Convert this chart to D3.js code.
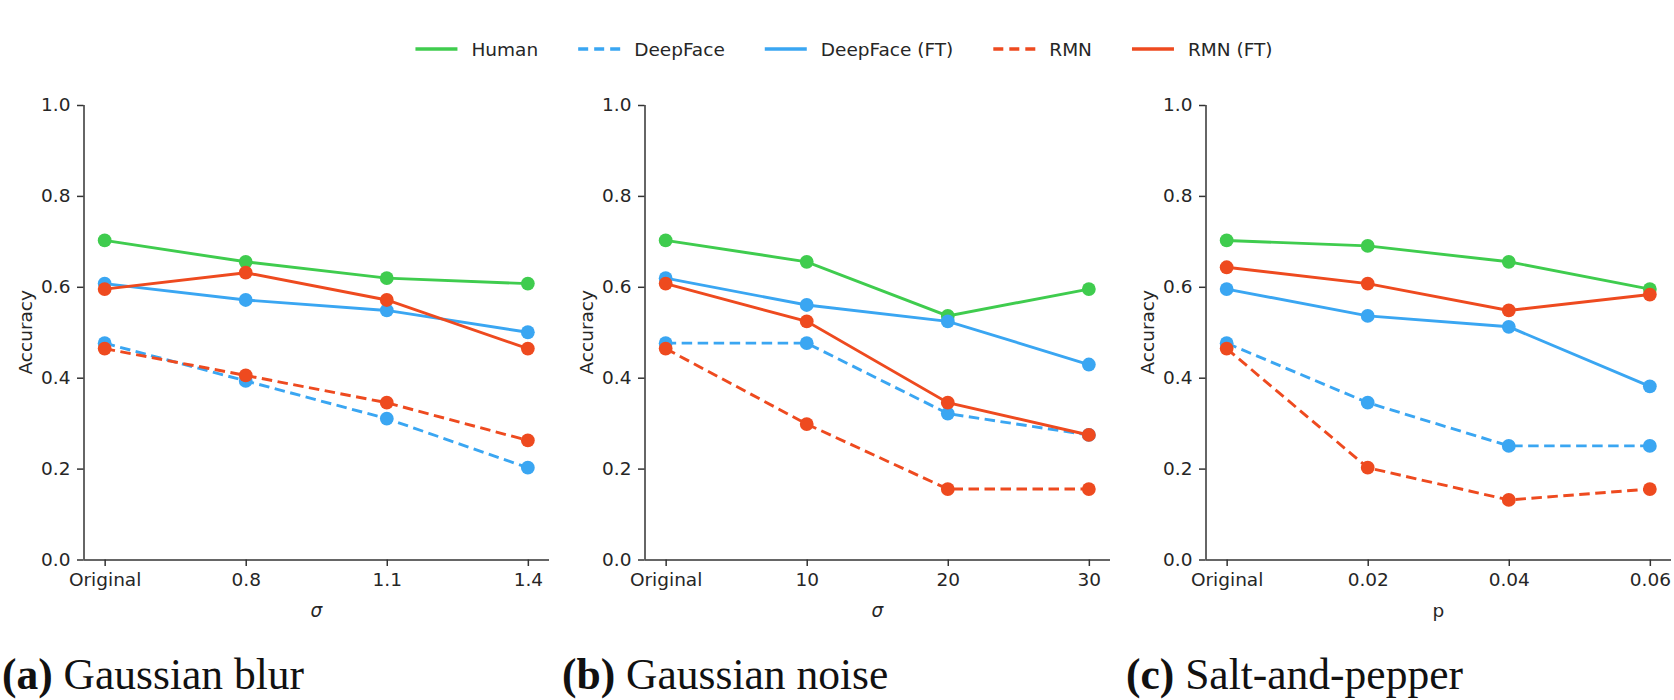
<!DOCTYPE html>
<html><head><meta charset="utf-8">
<script src="https://cdn.jsdelivr.net/npm/d3@7"></script>
<style>body{margin:0;background:#fff} svg{display:block}</style>
</head><body><svg id="c" width="1674" height="700"></svg>
<script>
// ---- data ----
const seriesNames = ["Human", "DeepFace", "DeepFace (FT)", "RMN", "RMN (FT)"];
const blurLevels  = ["Original", "0.8", "1.1", "1.4"];
const noiseLevels = ["Original", "10", "20", "30"];
const saltLevels  = ["Original", "0.02", "0.04", "0.06"];
const yTickValues = [0, 0.2, 0.4, 0.6, 0.8, 1.0];
const xLabels = ["σ", "σ", "p"];
const captionTags  = ["(a)", "(b)", "(c)"];
const captionTexts = ["Gaussian blur", "Gaussian noise", "Salt-and-pepper"];

// Gaussian blur
const blurHuman      = [0.702, 0.655, 0.619, 0.607];
const blurDeepFace   = [0.476, 0.393, 0.310, 0.202];
const blurDeepFaceFT = [0.607, 0.571, 0.548, 0.500];
const blurRMN        = [0.464, 0.405, 0.345, 0.262];
const blurRMNFT      = [0.595, 0.631, 0.571, 0.464];
// Gaussian noise
const noiseHuman      = [0.702, 0.655, 0.536, 0.595];
const noiseDeepFace   = [0.476, 0.476, 0.321, 0.274];
const noiseDeepFaceFT = [0.619, 0.560, 0.524, 0.429];
const noiseRMN        = [0.464, 0.298, 0.155, 0.155];
const noiseRMNFT      = [0.607, 0.524, 0.345, 0.274];
// Salt-and-pepper
const saltHuman      = [0.702, 0.690, 0.655, 0.595];
const saltDeepFace   = [0.476, 0.345, 0.250, 0.250];
const saltDeepFaceFT = [0.595, 0.536, 0.512, 0.381];
const saltRMN        = [0.464, 0.202, 0.131, 0.155];
const saltRMNFT      = [0.643, 0.607, 0.548, 0.583];

// ---- styles ----
const colors = {"Human": "#3fcc4e", "DeepFace": "#3aa6f2", "DeepFace (FT)": "#3aa6f2", "RMN": "#ee4a1f", "RMN (FT)": "#ee4a1f"};
const dashed = {"Human": false, "DeepFace": true, "DeepFace (FT)": false, "RMN": true, "RMN (FT)": false};
const DASH = "10.5,5.5";
const FONT = "DejaVu Sans, sans-serif";
const TXT = "#262626";

const panels = [
  {levels: blurLevels,  data: [blurHuman, blurDeepFace, blurDeepFaceFT, blurRMN, blurRMNFT], left: 83.5},
  {levels: noiseLevels, data: [noiseHuman, noiseDeepFace, noiseDeepFaceFT, noiseRMN, noiseRMNFT], left: 644.5},
  {levels: saltLevels,  data: [saltHuman, saltDeepFace, saltDeepFaceFT, saltRMN, saltRMNFT], left: 1205.5}
];
const W = 465.5, TOP = 105, BOTTOM = 559.5;
const svg = d3.select("#c");

const y = d3.scaleLinear().domain([0, 1]).range([BOTTOM, TOP]);

panels.forEach((p, pi) => {
  const x = d3.scalePoint().domain(p.levels).range([p.left, p.left + W]).padding(0.15);
  const g = svg.append("g");

  // axes
  const ya = g.append("g").attr("transform", `translate(${p.left},0)`)
    .call(d3.axisLeft(y).tickValues(yTickValues).tickFormat(d3.format(".1f")).tickSize(6.5).tickSizeOuter(0).tickPadding(6.5));
  const xa = g.append("g").attr("transform", `translate(0,${BOTTOM})`)
    .call(d3.axisBottom(x).tickSize(6.5).tickSizeOuter(0).tickPadding(6.5));
  [ya, xa].forEach(a => {
    a.select(".domain").attr("stroke", "#333").attr("stroke-width", 1.5);
    a.selectAll(".tick line").attr("stroke", "#333").attr("stroke-width", 1.5);
    a.selectAll(".tick text").attr("fill", TXT).style("font-family", FONT).style("font-size", "18.5px");
  });
  xa.select(".domain").attr("d", `M${p.left},0.5H${p.left + W}`);
  ya.select(".domain").attr("d", `M0.5,${BOTTOM}V${TOP}`);

  // axis labels
  g.append("text").attr("transform", `translate(${p.left - 58},${(TOP + BOTTOM) / 2}) rotate(-90)`)
    .attr("text-anchor", "middle").attr("dominant-baseline", "central")
    .attr("fill", TXT).style("font-family", FONT).style("font-size", "18.5px").text("Accuracy");
  g.append("text").attr("x", p.left + W / 2).attr("y", 617)
    .attr("text-anchor", "middle").attr("fill", TXT).style("font-family", FONT).style("font-size", "18.5px")
    .style("font-style", xLabels[pi] === "σ" ? "italic" : "normal").text(xLabels[pi]);

  // series
  const line = d3.line().x((d, i) => x(p.levels[i])).y(d => y(d));
  seriesNames.forEach((name, si) => {
    const vals = p.data[si];
    g.append("path").datum(vals).attr("d", line).attr("fill", "none")
      .attr("stroke", colors[name]).attr("stroke-width", 2.9)
      .attr("stroke-dasharray", dashed[name] ? DASH : null);
    g.selectAll(null).data(vals).enter().append("circle")
      .attr("cx", (d, i) => x(p.levels[i])).attr("cy", d => y(d)).attr("r", 6.9)
      .attr("fill", colors[name]);
  });

  // caption
  const cap = svg.append("text").attr("x", [2, 562, 1126][pi]).attr("y", 689)
    .attr("fill", "#111").style("font-family", "Liberation Serif, serif").style("font-size", "43.5px");
  cap.append("tspan").attr("font-weight", "bold").text(captionTags[pi]);
  cap.append("tspan").text(" " + captionTexts[pi]);
});

// legend
const leg = svg.append("g");
const LY = 49, HL = 42, HG = 14, CS = 40;
let items = [];
let tmp = leg.append("g");
seriesNames.forEach(n => {
  const t = tmp.append("text").style("font-family", FONT).style("font-size", "18.5px").text(n);
  items.push({name: n, w: t.node().getComputedTextLength()});
});
tmp.remove();
const total = d3.sum(items, d => HL + HG + d.w) + CS * (items.length - 1);
let cx = 844 - total / 2;
items.forEach(it => {
  leg.append("line").attr("x1", cx).attr("x2", cx + HL).attr("y1", LY).attr("y2", LY)
    .attr("stroke", colors[it.name]).attr("stroke-width", 3.5)
    .attr("stroke-dasharray", dashed[it.name] ? "10,6" : null);
  leg.append("text").attr("x", cx + HL + HG).attr("y", LY).attr("dominant-baseline", "central")
    .attr("fill", TXT).style("font-family", FONT).style("font-size", "18.5px").text(it.name);
  cx += HL + HG + it.w + CS;
});
</script></body></html>
